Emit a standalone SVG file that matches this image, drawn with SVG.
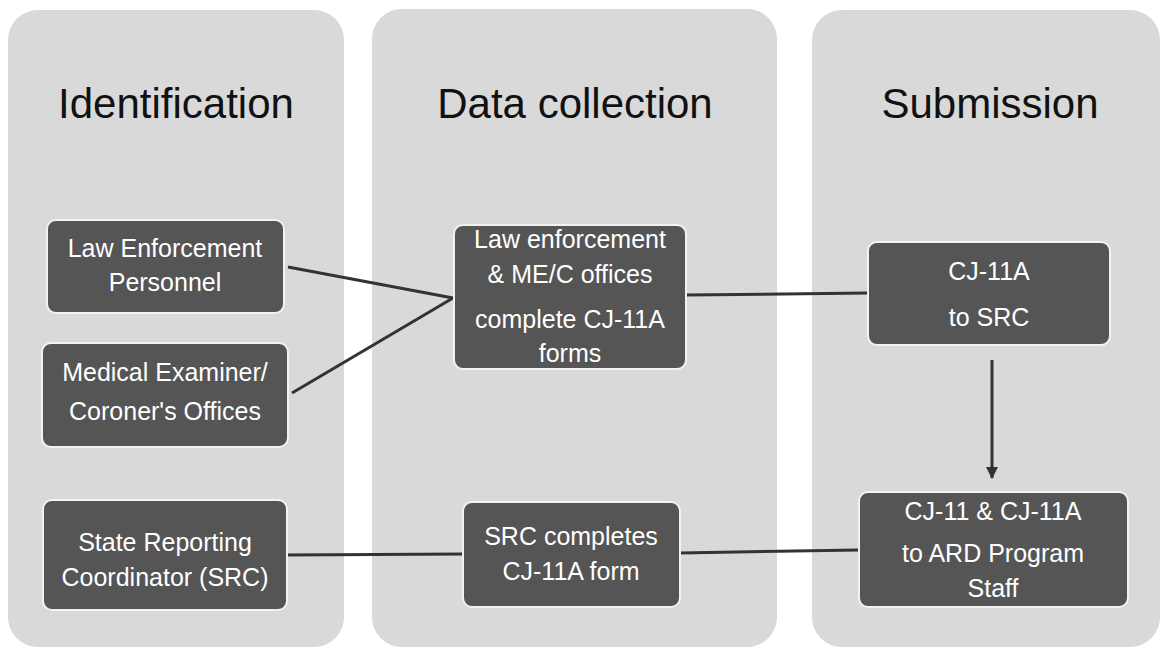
<svg xmlns="http://www.w3.org/2000/svg" width="1163" height="651" viewBox="0 0 1163 651">
<defs>
<style>
.col{fill:#d9d9d9;}
.hdr{font-family:"Liberation Sans",Arial,sans-serif;font-size:42px;fill:#111;text-anchor:middle;}
.box{fill:#555555;stroke:#f2f2f2;stroke-width:2;}
.lbl{font-family:"Liberation Sans",Arial,sans-serif;font-size:25px;fill:#ffffff;text-anchor:middle;}
.conn{stroke:#333333;stroke-width:3;fill:none;}
</style>
<marker id="arr" viewBox="0 0 12 16" refX="11" refY="6" markerWidth="12" markerHeight="16" markerUnits="userSpaceOnUse" orient="auto">
<path d="M0,0 L12,6 L0,12 Z" fill="#333333"/>
</marker>
</defs>
<rect width="1163" height="651" fill="#ffffff"/>
<g id="columns">
<g id="col-identification"><rect class="col" x="8" y="10" width="336" height="637" rx="30"/><text class="hdr" x="176" y="118">Identification</text></g>
<g id="col-data"><rect class="col" x="372" y="9" width="405" height="638" rx="30"/><text class="hdr" x="575" y="118">Data collection</text></g>
<g id="col-submission"><rect class="col" x="812" y="10" width="348" height="637" rx="30"/><text class="hdr" x="990" y="118">Submission</text></g>
</g>
<g id="connectors">
<line class="conn" x1="288" y1="267" x2="453" y2="298"/>
<line class="conn" x1="292" y1="393" x2="453" y2="298"/>
<line class="conn" x1="686" y1="295" x2="868" y2="293"/>
<line class="conn" x1="992" y1="360" x2="992" y2="478" marker-end="url(#arr)"/>
<line class="conn" x1="287" y1="555" x2="463" y2="554"/>
<line class="conn" x1="680" y1="553" x2="858" y2="550"/>
</g>
<g id="n-law">
<rect class="box" x="47" y="220" width="237" height="93" rx="9"/>
<text class="lbl" x="165" y="257">Law Enforcement</text>
<text class="lbl" x="165" y="291">Personnel</text>
</g>
<g id="n-me">
<rect class="box" x="42" y="343" width="246" height="104" rx="9"/>
<text class="lbl" x="165" y="381">Medical Examiner/</text>
<text class="lbl" x="165" y="420">Coroner's Offices</text>
</g>
<g id="n-src">
<rect class="box" x="43" y="500" width="244" height="110" rx="9"/>
<text class="lbl" x="165" y="551">State Reporting</text>
<text class="lbl" x="165" y="586">Coordinator (SRC)</text>
</g>
<g id="n-lawme">
<rect class="box" x="454" y="225" width="232" height="144" rx="9"/>
<text class="lbl" x="570" y="248">Law enforcement</text>
<text class="lbl" x="570" y="283">&amp; ME/C offices</text>
<text class="lbl" x="570" y="328">complete CJ-11A</text>
<text class="lbl" x="570" y="362">forms</text>
</g>
<g id="n-srccomp">
<rect class="box" x="463" y="502" width="217" height="105" rx="9"/>
<text class="lbl" x="571" y="545">SRC completes</text>
<text class="lbl" x="571" y="580">CJ-11A form</text>
</g>
<g id="n-cj11a">
<rect class="box" x="868" y="242" width="242" height="103" rx="9"/>
<text class="lbl" x="989" y="280">CJ-11A</text>
<text class="lbl" x="989" y="326">to SRC</text>
</g>
<g id="n-cj11">
<rect class="box" x="859" y="492" width="269" height="115" rx="9"/>
<text class="lbl" x="993" y="520">CJ-11 &amp; CJ-11A</text>
<text class="lbl" x="993" y="562">to ARD Program</text>
<text class="lbl" x="993" y="597">Staff</text>
</g>
</svg>
